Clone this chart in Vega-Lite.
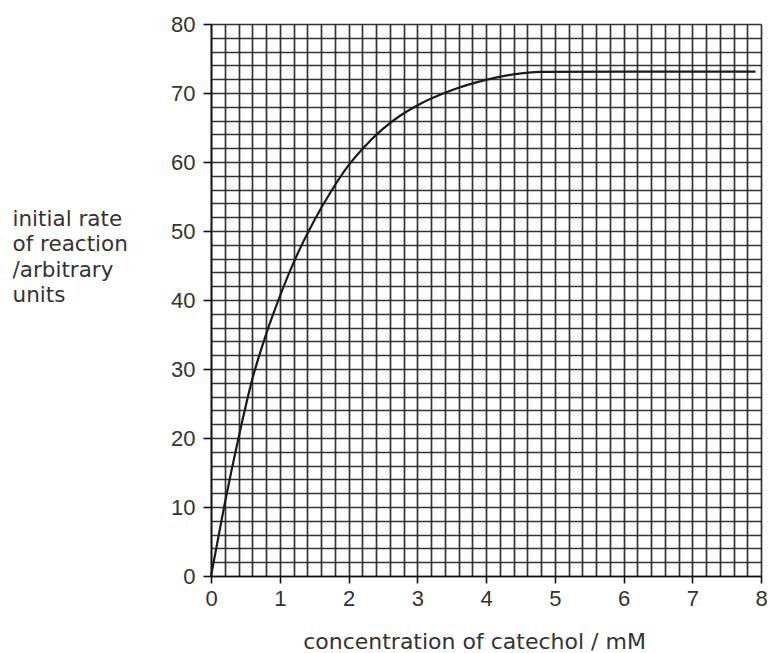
{
  "$schema": "https://vega.github.io/schema/vega-lite/v6.json",
  "width": 550,
  "height": 552,
  "autosize": {"type": "none"},
  "padding": {"left": 211, "top": 24, "right": 9, "bottom": 77},
  "background": "white",
  "config": {
    "view": {"stroke": null},
    "font": "Liberation Sans"
  },
  "data": {
    "values": [
      {"conc": 0, "rate": 0},
      {"conc": 0.2, "rate": 10.5},
      {"conc": 0.4, "rate": 20},
      {"conc": 0.6, "rate": 28.5},
      {"conc": 0.8, "rate": 35},
      {"conc": 1.0, "rate": 40.5},
      {"conc": 1.25, "rate": 46.5},
      {"conc": 1.5, "rate": 51.5},
      {"conc": 1.75, "rate": 55.8},
      {"conc": 2.0, "rate": 59.5},
      {"conc": 2.25, "rate": 62.4},
      {"conc": 2.5, "rate": 64.8},
      {"conc": 2.75, "rate": 66.7},
      {"conc": 3.0, "rate": 68.2},
      {"conc": 3.5, "rate": 70.4},
      {"conc": 4.0, "rate": 71.9},
      {"conc": 4.4, "rate": 72.7},
      {"conc": 4.8, "rate": 73.05},
      {"conc": 6.0, "rate": 73.1},
      {"conc": 7.0, "rate": 73.1},
      {"conc": 7.92, "rate": 73.1}
    ]
  },
  "mark": {"type": "line", "interpolate": "monotone", "color": "#1a1a1a", "strokeWidth": 2.2},
  "encoding": {
    "x": {
      "field": "conc",
      "type": "quantitative",
      "scale": {"domain": [0, 8], "nice": false, "zero": false},
      "axis": {
        "values": [0,0.2,0.4,0.6,0.8,1,1.2,1.4,1.6,1.8,2,2.2,2.4,2.6,2.8,3,3.2,3.4,3.6,3.8,4,4.2,4.4,4.6,4.8,5,5.2,5.4,5.6,5.8,6,6.2,6.4,6.6,6.8,7,7.2,7.4,7.6,7.8,8],
        "labelExpr": "datum.value % 1 === 0 ? '' + datum.value : ''",
        "labelOverlap": false,
        "labelBound": false,
        "labelFlush": false,
        "labelFontSize": 22,
        "labelColor": "#333333",
        "labelPadding": 5,
        "grid": true,
        "gridColor": "#1e1e1e",
        "gridWidth": 1.7,
        "gridOpacity": 0.9,
        "domainColor": "#111111",
        "domainWidth": 1.6,
        "tickColor": "#111111",
        "tickWidth": 1.6,
        "tickSize": 7,
        "tickOpacity": {"condition": {"test": "datum.value % 1 === 0", "value": 1}, "value": 0},
        "title": "concentration of catechol / mM",
        "titleFont": "DejaVu Sans",
        "titleFontSize": 22,
        "titleFontWeight": "normal",
        "titleColor": "#333333",
        "titleBaseline": "alphabetic",
        "titleAnchor": "start",
        "titleAlign": "center",
        "titleX": 263,
        "titleY": 72
      }
    },
    "y": {
      "field": "rate",
      "type": "quantitative",
      "scale": {"domain": [0, 80], "nice": false, "zero": false},
      "axis": {
        "values": [0,2,4,6,8,10,12,14,16,18,20,22,24,26,28,30,32,34,36,38,40,42,44,46,48,50,52,54,56,58,60,62,64,66,68,70,72,74,76,78,80],
        "labelExpr": "datum.value % 10 === 0 ? '' + datum.value : ''",
        "labelOverlap": false,
        "labelBound": false,
        "labelFlush": false,
        "labelFontSize": 22,
        "labelColor": "#333333",
        "labelPadding": 8,
        "grid": true,
        "gridColor": "#1e1e1e",
        "gridWidth": 1.7,
        "gridOpacity": 0.9,
        "domainColor": "#111111",
        "domainWidth": 1.6,
        "tickColor": "#111111",
        "tickWidth": 1.6,
        "tickSize": 8,
        "tickOpacity": {"condition": {"test": "datum.value % 10 === 0", "value": 1}, "value": 0},
        "title": ["initial rate", "of reaction", "/arbitrary", "units"],
        "titleFont": "DejaVu Sans",
        "titleFontSize": 21.5,
        "titleFontWeight": "normal",
        "titleColor": "#333333",
        "titleAngle": 0,
        "titleAlign": "left",
        "titleBaseline": "alphabetic",
        "titleAnchor": "start",
        "titleLineHeight": 25.5,
        "titleX": -199,
        "titleY": 201
      }
    }
  }
}
